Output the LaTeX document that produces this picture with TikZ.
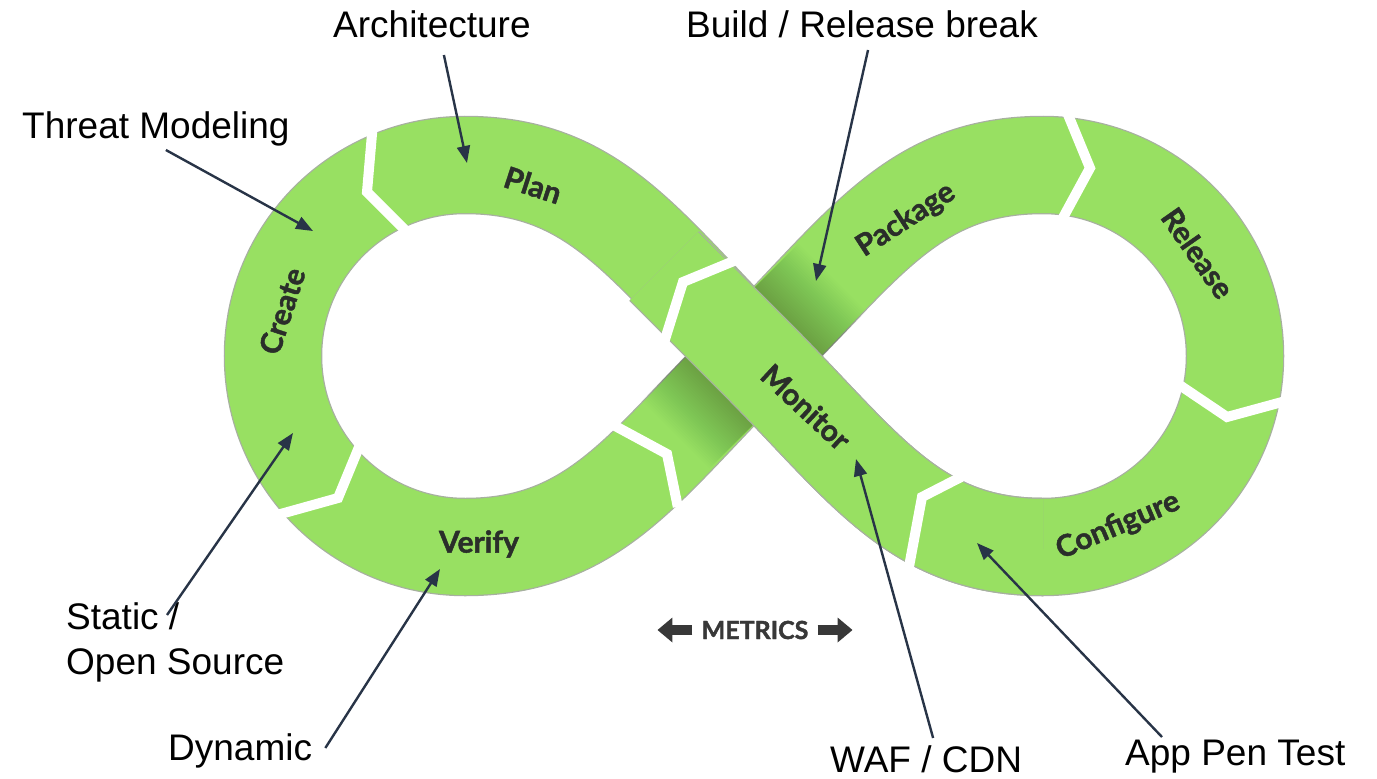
\documentclass[tikz,border=0pt]{standalone}
\usepackage{fontspec}
\setmainfont{Liberation Sans}
\newfontfamily\latofont{Lato}[BoldFeatures={FakeBold=1.5}]
\usetikzlibrary{positioning,arrows.meta,calc}
\definecolor{LoopGreen}{HTML}{98E062}
\definecolor{LoopEdge}{HTML}{A7B0A0}
\definecolor{LoopInk}{HTML}{2A2E2A}
\definecolor{CallInk}{HTML}{283447}
\definecolor{MetricInk}{HTML}{383838}
\newcommand{\Note}{\fontsize{37}{45}\selectfont}
\newcommand{\Stage}{\latofont\bfseries\fontsize{30}{32}\selectfont}
\newcommand{\notch}[3]{\draw[notch] ($(#2)!1.2!(#1)$) -- (#2) -- ($(#2)!1.2!(#3)$);}
\tikzset{
  band/.style={draw=LoopGreen, line width=96pt,
               preaction={draw=LoopEdge, line width=98.5pt}},
  notch/.style={draw=white, line width=10pt, line join=miter},
  stage/.style={font=\Stage, text=LoopInk, inner sep=0pt},
  note/.style={font=\Note, text=black, inner sep=0pt, align=left},
  callout/.style={-{Triangle[length=17pt,width=13pt]}, line width=2.4pt, CallInk},
  metric/.style={-{Triangle[length=15pt,width=24pt]}, line width=10pt, MetricInk},
}

\begin{document}
\begin{tikzpicture}[x=1pt,y=-1pt]
  \useasboundingbox (0,0) rectangle (1377,779);
  \draw[band] (754,356) .. controls (644,246) and (595,165) .. (465,165)
    .. controls (359,165) and (273,250) .. (273,356)
    .. controls (273,462) and (359,547) .. (465,547)
    .. controls (595,547) and (644,466) .. (754,356)
    .. controls (864,246) and (913,165) .. (1043,165)
    .. controls (1149,165) and (1235,250) .. (1235,356)
    .. controls (1235,462) and (1149,547) .. (1043,547)
    .. controls (913,547) and (864,466) .. (754,356);
  \begin{scope}
    \clip (873,305) -- (805,237) -- (635,407) -- (703,475) -- cycle;
    \foreach \w in {98,102,...,222}
      \draw[black, opacity=0.008, line width=\w pt] (654,256) -- (854,456);
  \end{scope}
  \draw[band] (1043,547) .. controls (913,547) and (864,466) .. (754,356) -- (664,266);

  \notch{729,263}{683,282}{667,333}
  \notch{372,134}{367,192}{403,228}
  \notch{277,515}{338,498}{357,452}
  \notch{676,498}{667,454}{617,427}
  \notch{1069,117}{1090,168}{1065,214}
  \notch{1282,402}{1227,417}{1181,386}
  \notch{911,556}{922,497}{963,476}

  \node[stage, rotate=-18] (plan) at (533,185) {Plan};
  \node[stage, rotate=72] (create) at (282,311) {Create};
  \node[stage] (verify) at (479,544) {Verify};
  \node[stage, rotate=33] (package) at (906,220) {Package};
  \node[stage, rotate=-55] (release) at (1198,253) {Release};
  \node[stage, rotate=23] (configure) at (1118,526) {Configure};
  \node[stage, rotate=-43] (monitor) at (806,407) {Monitor};

  \node[font=\latofont\bfseries\fontsize{25}{27}\selectfont, text=MetricInk,
        inner sep=0pt] (metrics) at (755,630) {METRICS};
  \draw[metric] ([xshift=-9pt]metrics.west) -- ++(-35,0);
  \draw[metric] ([xshift=9pt]metrics.east) -- ++(35,0);

  \node[note, anchor=base west] (arch) at (333,37) {Architecture};
  \node[note, anchor=base west] (build) at (686,37) {Build / Release break};
  \node[note, anchor=base west] (threat) at (22,138) {Threat Modeling};
  \node[note, anchor=base west] (static) at (66,674) {Static /\\Open Source};
  \node[note, anchor=base west] (dynamic) at (168,760) {Dynamic};
  \node[note, anchor=base west] (waf) at (830,772) {WAF / CDN};
  \node[note, anchor=base west] (app) at (1125,765) {App Pen Test};

  \coordinate (archTip) at (467,163);
  \coordinate (buildTip) at (816,281);
  \coordinate (threatTip) at (313,231);
  \coordinate (staticTip) at (293,433);
  \coordinate (dynamicTip) at (440,569);
  \coordinate (wafTip) at (856,459);
  \coordinate (appTip) at (977,543);

  \draw[callout] ([xshift=12pt,yshift=-18pt]arch.base) -- (archTip);
  \draw[callout] ([xshift=6pt,yshift=-13pt]build.base) -- (buildTip);
  \draw[callout] ([xshift=10pt,yshift=-12pt]threat.base) -- (threatTip);
  \draw[callout] ([xshift=101pt,yshift=59pt]static.base west) -- (staticTip);
  \draw[callout] ([xshift=13pt,yshift=12pt]dynamic.base east) -- (dynamicTip);
  \draw[callout] ([xshift=7pt,yshift=34pt]waf.base) -- (wafTip);
  \draw[callout] ([xshift=37pt,yshift=28pt]app.base west) -- (appTip);
\end{tikzpicture}
\end{document}
